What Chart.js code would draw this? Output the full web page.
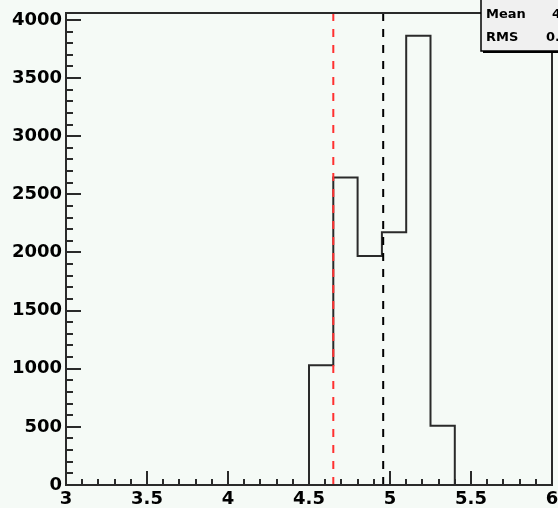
<!DOCTYPE html>
<html lang="en">
<head>
  <meta charset="utf-8"/>
  <title>Histogram</title>
  <script src="https://cdn.jsdelivr.net/npm/chart.js@4.4.0/dist/chart.umd.min.js"></script>
  <style>
    html, body { margin:0; padding:0; background:#f5faf6; }
    #histChart { display:block; }
  </style>
</head>
<body>
  <canvas id="histChart" width="558" height="508"></canvas>
  <script>
    // bin edges and counts
    var binEdges = [3.0, 3.15, 3.3, 3.45, 3.6, 3.75, 3.9, 4.05, 4.2, 4.35, 4.5,
                    4.65, 4.8, 4.95, 5.1, 5.25, 5.4, 5.55, 5.7, 5.85, 6.0];
    var binCounts = [0, 0, 0, 0, 0, 0, 0, 0, 0, 0,
                     1030, 2645, 1970, 2175, 3865, 510, 0, 0, 0, 0];
    var xTicks = [3, 3.5, 4, 4.5, 5, 5.5, 6];
    var yTicks = [0, 500, 1000, 1500, 2000, 2500, 3000, 3500, 4000];
    var redLineX = 4.65;
    var meanLineX = 4.958;
    var statNames = ['Mean', 'RMS'];
    var statValues = ['4.958', '0.2160'];

    var bg = '#f5faf6';
    var ink = '#2a2a2a';

    // step outline: left edge of each bin + closing right edge
    var histPoints = [];
    for (var i = 0; i < binCounts.length; i++) {
      histPoints.push({x: binEdges[i], y: binCounts[i]});
    }
    histPoints.push({x: binEdges[binEdges.length - 1], y: 0});

    var yMax = 4060;

    var rootLook = {
      id: 'rootLook',
      beforeDraw: function(chart) {
        var c = chart.ctx;
        c.save();
        c.fillStyle = bg;
        c.fillRect(0, 0, chart.width, chart.height);
        c.restore();
      },
      afterDatasetsDraw: function(chart) {
        var c = chart.ctx, a = chart.chartArea;
        var xs = chart.scales.x, ys = chart.scales.y;
        c.save();
        c.strokeStyle = ink;
        c.lineWidth = 2;
        c.strokeRect(a.left, a.top, a.right - a.left, a.bottom - a.top);
        c.beginPath();
        // x ticks, inward
        for (var k = 0; k <= 30; k++) {
          var v = xs.min + k * 0.1;
          var px = Math.round(xs.getPixelForValue(v));
          var len = (k % 5 === 0) ? 14 : 6;
          c.moveTo(px, a.bottom);
          c.lineTo(px, a.bottom - len);
        }
        // y ticks, inward
        for (var m = 0; m <= 40; m++) {
          var py = Math.round(ys.getPixelForValue(m * 100));
          var ln = (m % 5 === 0) ? 15 : 7;
          c.moveTo(a.left, py);
          c.lineTo(a.left + ln, py);
        }
        c.stroke();
        c.restore();
      },
      afterDraw: function(chart) {
        var c = chart.ctx;
        c.save();
        // stats box with shadow
        c.fillStyle = '#000';
        c.fillRect(483, -4, 100, 57);
        c.fillStyle = '#f0f0f0';
        c.fillRect(481, -4, 100, 55);
        c.strokeStyle = '#000';
        c.lineWidth = 1.5;
        c.strokeRect(481, -4, 100, 55);
        c.fillStyle = '#000';
        c.font = 'bold 13px "DejaVu Sans"';
        c.textBaseline = 'middle';
        c.fillText(statNames[0], 486, 15);
        c.fillText(statNames[1], 486, 38);
        c.fillText(statValues[0], 552, 15);
        c.fillText(statValues[1], 546, 38);
        c.restore();
      }
    };

    Chart.defaults.font.family = '"DejaVu Sans"';
    Chart.defaults.font.weight = 'bold';
    Chart.defaults.font.size = 18;
    Chart.defaults.color = '#000';

    new Chart(document.getElementById('histChart'), {
      type: 'line',
      data: {
        datasets: [
          {
            data: [{x: redLineX, y: 0}, {x: redLineX, y: yMax}],
            borderColor: '#ff3030',
            borderWidth: 2,
            borderDash: [8, 8],
            pointRadius: 0
          },
          {
            data: [{x: meanLineX, y: 0}, {x: meanLineX, y: yMax}],
            borderColor: '#000',
            borderWidth: 2,
            borderDash: [8, 8],
            pointRadius: 0
          },
          {
            data: histPoints,
            borderColor: ink,
            borderWidth: 2,
            stepped: 'before',
            fill: false,
            pointRadius: 0
          }
        ]
      },
      options: {
        responsive: false,
        animation: false,
        devicePixelRatio: 1,
        layout: { padding: { top: 13, right: 6, left: 0, bottom: 0 } },
        plugins: { legend: { display: false }, tooltip: { enabled: false } },
        scales: {
          x: {
            type: 'linear',
            min: 3, max: 6,
            grid: { display: false, drawTicks: false },
            border: { display: false },
            ticks: {
              autoSkip: false, maxRotation: 0, padding: 4,
              callback: function(v) { return String(v); }
            },
            afterBuildTicks: function(s) { s.ticks = xTicks.map(function(v){ return {value: v}; }); },
            afterFit: function(s) { s.height = 23; s.paddingLeft = 0; s.paddingRight = 0; }
          },
          y: {
            min: 0, max: yMax,
            grid: { display: false, drawTicks: false },
            border: { display: false },
            ticks: {
              padding: 4,
              callback: function(v) { return String(v); }
            },
            afterBuildTicks: function(s) { s.ticks = yTicks.map(function(v){ return {value: v}; }); },
            afterFit: function(s) { s.width = 66; s.paddingTop = 0; s.paddingBottom = 0; }
          }
        }
      },
      plugins: [rootLook]
    });
  </script>
</body>
</html>
